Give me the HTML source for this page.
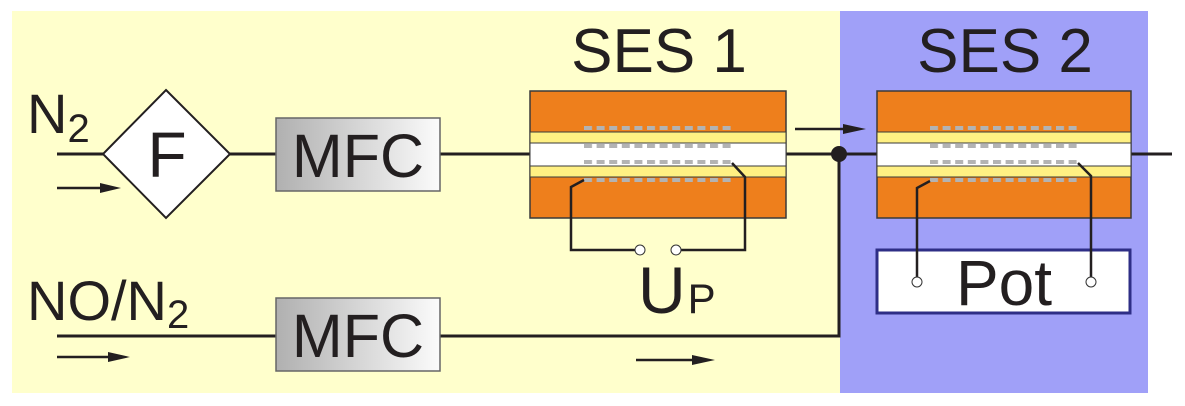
<!DOCTYPE html>
<html><head><meta charset="utf-8"><style>
html,body{margin:0;padding:0;background:#fff;}
svg{display:block;}
text{font-family:"Liberation Sans",sans-serif;fill:#231f20;}
</style></head><body>
<svg width="1185" height="406" viewBox="0 0 1185 406" xmlns="http://www.w3.org/2000/svg">
<defs>
<linearGradient id="g" x1="0" x2="1" y1="0" y2="0"><stop offset="0" stop-color="#b0b0b0"/><stop offset="1" stop-color="#fbfbfb"/></linearGradient>
<pattern id="dash" x="584" y="0" width="12.6" height="10" patternUnits="userSpaceOnUse"><rect x="0" y="0" width="8" height="10" fill="#b3b3b3"/></pattern>
<pattern id="dash2" x="930" y="0" width="12.6" height="10" patternUnits="userSpaceOnUse"><rect x="0" y="0" width="8" height="10" fill="#b3b3b3"/></pattern>
</defs>
<rect x="12" y="11" width="828" height="382" fill="#ffffcc"/>
<rect x="840" y="11" width="308" height="382" fill="#a0a0f8"/>

<g stroke="#231f20" stroke-width="3" fill="none">
<line x1="57" y1="154" x2="103" y2="154"/>
<line x1="230" y1="154" x2="276" y2="154"/>
<line x1="440" y1="154" x2="530" y2="154"/>
<line x1="786" y1="154" x2="877" y2="154"/>
<line x1="1131" y1="154" x2="1172" y2="154"/>
<line x1="57" y1="336" x2="276" y2="336"/>
<polyline points="440,336 839,336 839,154"/>
</g>
<circle cx="839" cy="154" r="8" fill="#231f20"/>

<g stroke="#231f20" stroke-width="2.5">
<line x1="57" y1="188" x2="104" y2="188"/>
<line x1="57" y1="357" x2="112" y2="357"/>
<line x1="636" y1="360" x2="696" y2="360"/>
<line x1="795" y1="129" x2="846" y2="129"/>
</g>
<g fill="#231f20">
<polygon points="100,183 121,188 100,193"/>
<polygon points="108,352 130,357 108,362"/>
<polygon points="692,355 715,360 692,365"/>
<polygon points="843,124 866,129 843,134"/>
</g>

<polygon points="166,90 230,154 166,218 103,154" fill="#fff" stroke="#231f20" stroke-width="2"/>
<text x="167" y="177" font-size="64" text-anchor="middle">F</text>
<rect x="276" y="118" width="164" height="73" fill="url(#g)" stroke="#666" stroke-width="1.5"/>
<text x="358" y="177" font-size="61" text-anchor="middle">MFC</text>
<rect x="276" y="298" width="164" height="73" fill="url(#g)" stroke="#666" stroke-width="1.5"/>
<text x="358" y="357" font-size="61" text-anchor="middle">MFC</text>

<text x="27" y="133" font-size="56">N<tspan font-size="40" dy="9">2</tspan></text>
<text x="27" y="320" font-size="56">NO/N<tspan font-size="40" dy="8">2</tspan></text>

<text x="659" y="72" font-size="62" text-anchor="middle">SES 1</text>
<text x="1005" y="72" font-size="62" text-anchor="middle">SES 2</text>

<rect x="530" y="91" width="256" height="127" fill="#ee7f1c" stroke="#3a3a3a" stroke-width="1.5"/>
<rect x="530" y="132" width="256" height="11" fill="#fff083" stroke="#3a3a3a" stroke-width="1"/>
<rect x="530" y="143" width="256" height="23" fill="#fff" stroke="#3a3a3a" stroke-width="1"/>
<rect x="530" y="166" width="256" height="11" fill="#fff083" stroke="#3a3a3a" stroke-width="1"/>
<g fill="url(#dash)">
<rect x="584" y="126" width="148" height="4"/>
<rect x="584" y="144" width="148" height="4"/>
<rect x="584" y="160" width="148" height="4"/>
<rect x="584" y="178" width="148" height="4"/>
</g>
<polyline points="584,180 571,187 571,250 635,250" fill="none" stroke="#231f20" stroke-width="2.5"/>
<polyline points="732,163 745,177 745,250 681,250" fill="none" stroke="#231f20" stroke-width="2.5"/>
<circle cx="640" cy="250" r="5" fill="#fff" stroke="#333" stroke-width="1"/>
<circle cx="676" cy="250" r="5" fill="#fff" stroke="#333" stroke-width="1"/>
<text x="638" y="313" font-size="66">U<tspan font-size="42" dx="2">P</tspan></text>

<rect x="877" y="91" width="254" height="127" fill="#ee7f1c" stroke="#3a3a3a" stroke-width="1.5"/>
<rect x="877" y="132" width="254" height="11" fill="#fff083" stroke="#3a3a3a" stroke-width="1"/>
<rect x="877" y="143" width="254" height="23" fill="#fff" stroke="#3a3a3a" stroke-width="1"/>
<rect x="877" y="166" width="254" height="11" fill="#fff083" stroke="#3a3a3a" stroke-width="1"/>
<g fill="url(#dash2)">
<rect x="930" y="126" width="148" height="4"/>
<rect x="930" y="144" width="148" height="4"/>
<rect x="930" y="160" width="148" height="4"/>
<rect x="930" y="178" width="148" height="4"/>
</g>
<rect x="877" y="250" width="253" height="63" fill="#fff" stroke="#2e2e86" stroke-width="3"/>
<text x="1004" y="305" font-size="64" text-anchor="middle">Pot</text>
<polyline points="930,181 917,188 917,277" fill="none" stroke="#231f20" stroke-width="2.5"/>
<polyline points="1078,163 1091,176 1091,277" fill="none" stroke="#231f20" stroke-width="2.5"/>
<circle cx="917" cy="282" r="5" fill="#fff" stroke="#333" stroke-width="1"/>
<circle cx="1091" cy="282" r="5" fill="#fff" stroke="#333" stroke-width="1"/>
</svg>
</body></html>
